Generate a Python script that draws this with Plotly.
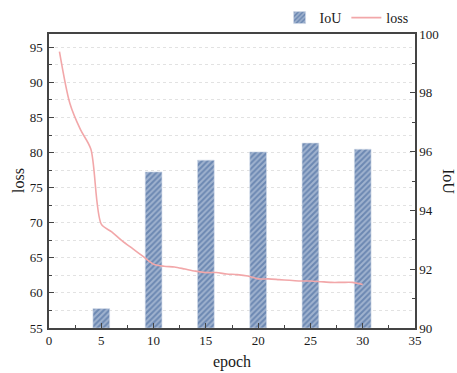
import plotly.graph_objects as go

bar_epochs = [5, 10, 15, 20, 25, 30]
iou_values = [90.66, 95.31, 95.71, 95.99, 96.29, 96.08]

loss_epochs = list(range(1, 31))
loss_values = [94.4, 87.0, 83.3, 80.5, 69.8, 68.7, 67.4, 66.3, 65.2, 64.1,
               63.8, 63.7, 63.4, 63.1, 62.9, 62.9, 62.7, 62.6, 62.4, 62.0,
               62.0, 61.9, 61.8, 61.7, 61.7, 61.6, 61.5, 61.5, 61.5, 61.2]

FONT = "Liberation Serif"
AX = "#444444"
IOU_BASE = 90

fig = go.Figure()
fig.add_trace(go.Bar(
    x=bar_epochs, y=[v - IOU_BASE for v in iou_values], base=IOU_BASE,
    name="IoU", yaxis="y", width=1.6,
    marker=dict(color="#6c88b2", line=dict(color="#d3dcea", width=0.6),
                pattern=dict(shape="/", fgcolor="#d3ddeb", size=4, solidity=0.5)),
))
fig.add_trace(go.Scatter(
    x=loss_epochs, y=loss_values, name="loss", yaxis="y2", mode="lines",
    line=dict(color="#f2a7a9", width=1.6, shape="spline", smoothing=0.8),
))

fig.update_layout(
    width=457, height=373,
    margin=dict(l=49, r=42, t=34, b=45, autoexpand=False),
    paper_bgcolor="white", plot_bgcolor="white",
    font=dict(family=FONT, size=13, color="#1a1a1a"),
    showlegend=True,
    legend=dict(orientation="h", x=0.63, xanchor="left", y=1.0, yanchor="bottom",
                font=dict(size=14, family=FONT), bgcolor="rgba(0,0,0,0)",
                itemwidth=30, traceorder="normal"),
    xaxis=dict(range=[0, 35], dtick=5, tick0=0, ticks="inside", ticklen=5,
               tickcolor=AX, showline=True, linecolor=AX, linewidth=1.5,
               mirror=True, showgrid=False, zeroline=False, automargin=False,
               minor=dict(dtick=2.5, ticks="inside", ticklen=3, tickcolor=AX),
               title=dict(text="epoch", font=dict(size=16, family=FONT), standoff=8),
               tickfont=dict(size=13, family=FONT)),
    yaxis=dict(range=[90, 100], dtick=2, tick0=90, side="right", ticks="inside",
               ticklen=5, tickcolor=AX, showline=True, linecolor=AX, linewidth=1.5,
               showgrid=False, zeroline=False, automargin=False,
               minor=dict(dtick=1, ticks="inside", ticklen=3, tickcolor=AX),
               tickfont=dict(size=13, family=FONT)),
    yaxis2=dict(range=[55, 96.9], dtick=5, tick0=55, side="left", overlaying="y",
                ticks="inside", ticklen=5, tickcolor=AX, showline=True,
                linecolor=AX, linewidth=1.5, zeroline=False, ticklabelstandoff=2,
                automargin=False,
                showgrid=True, gridcolor="#e2e2e2", griddash="dot", gridwidth=1,
                minor=dict(dtick=2.5, ticks="inside", ticklen=3, tickcolor=AX,
                           showgrid=True, gridcolor="#e2e2e2", griddash="dot"),
                tickfont=dict(size=13, family=FONT)),
    annotations=[
        dict(text="IoU", xref="paper", yref="paper", x=1.0, xshift=34,
             y=0.5, textangle=90, showarrow=False, xanchor="center",
             yanchor="middle", font=dict(size=16, family=FONT, color="#1a1a1a")),
        dict(text="loss", xref="paper", yref="paper", x=0.0, xshift=-31,
             y=0.5, textangle=-90, showarrow=False, xanchor="center",
             yanchor="middle", font=dict(size=16, family=FONT, color="#1a1a1a")),
    ],
)

fig.write_html("out.html", config={"displayModeBar": False},
               post_script="document.body.style.margin='0';document.body.style.overflow='hidden';")
